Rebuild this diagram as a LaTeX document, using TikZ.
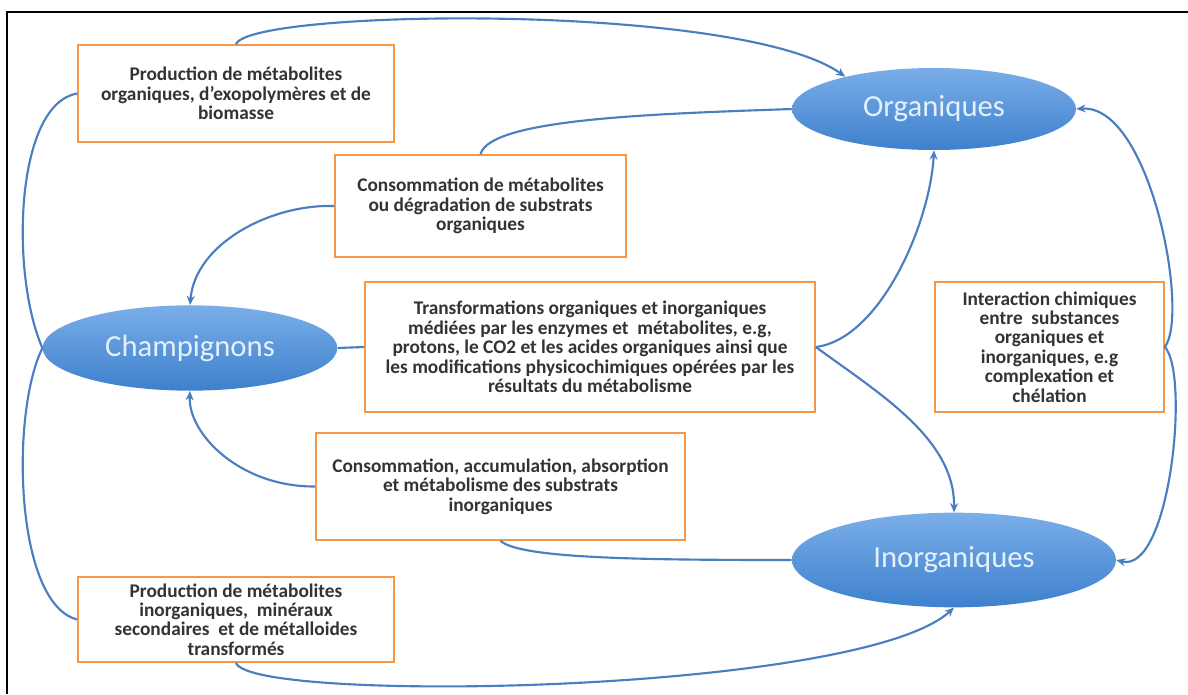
\documentclass[tikz,border=0pt]{standalone}
\usepackage{fontspec}
\setmainfont{Carlito}
\usetikzlibrary{arrows.meta, shapes.geometric}
\definecolor{flowblue}{RGB}{74,126,193}
\definecolor{boxorange}{RGB}{247,150,70}
\definecolor{pooltop}{RGB}{122,174,232}
\definecolor{poolbot}{RGB}{62,128,205}
\definecolor{pooltext}{RGB}{228,240,252}

\begin{document}
\begin{tikzpicture}[x=0.75pt, y=0.75pt,
  procbox/.style={draw=boxorange, line width=1.2pt, fill=white, align=center,
    inner sep=2pt, text=black!80, font=\fontsize{14.5}{14.6}\selectfont\bfseries},
  pool/.style={ellipse, inner sep=0pt, top color=pooltop, bottom color=poolbot,
    text=pooltext, font=\fontsize{23}{25}\selectfont},
  link/.style={flowblue, line width=1.6pt},
  flow/.style={link, -{Stealth[length=7pt,width=6pt]}}]

\useasboundingbox (0,0) rectangle (1188,694);
\fill[white] (0,0) rectangle (1188,694);
\draw[line width=1.5pt] (7,0) -- (7,682) -- (1188,682);

% ---- pools ----
\node[pool, minimum width=221pt, minimum height=64pt] (champ) at (190,346) {Champignons};
\node[pool, minimum width=213pt, minimum height=61.5pt] (organ) at (934,585) {Organiques};
\node[pool, minimum width=243pt, minimum height=71pt] (inorg) at (954,134) {Inorganiques};

% ---- processes ----
\node[procbox, minimum width=237pt, minimum height=72.75pt] (prodorg) at (236,600.5)
  {Production de métabolites\\organiques, d’exopolymères et de\\biomasse};
\node[procbox, minimum width=218.25pt, minimum height=76.5pt] (consorg) at (480.5,488)
  {Consommation de métabolites\\ou dégradation de substrats\\organiques};
\node[procbox, minimum width=337.5pt, minimum height=97.5pt] (transf) at (590,347)
  {Transformations organiques et inorganiques\\médiées par les enzymes et \ métabolites, e.g,\\protons, le CO2 et les acides organiques ainsi que\\les modifications physicochimiques opérées par les\\résultats du métabolisme};
\node[procbox, minimum width=171.75pt, minimum height=97.5pt] (inter) at (1049.5,347)
  {Interaction chimiques\\entre \ substances\\organiques et\\inorganiques, e.g\\complexation et\\chélation};
\node[procbox, minimum width=276.75pt, minimum height=80.25pt] (consinorg) at (500.5,207.5)
  {Consommation, accumulation, absorption\\et métabolisme des substrats\\inorganiques};
\node[procbox, minimum width=237pt, minimum height=63.75pt] (prodinorg) at (236,74.5)
  {Production de métabolites\\inorganiques, \ minéraux\\secondaires \ et de métalloides\\transformés};

% ---- production ----
\draw[link] (prodorg.west) .. controls (15,590) and (10,420) .. (champ.west);
\draw[link] (champ.west) .. controls (10,280) and (15,90) .. (prodinorg.west);
\draw[flow] (prodorg.north) .. controls (250,685) and (740,692) .. (organ.160);
\draw[flow] (prodinorg.south) .. controls (250,-10) and (860,0) .. (inorg.south);

% ---- consumption ----
\draw[link] (organ.west) .. controls (650,580) and (490,575) .. (consorg.north);
\draw[flow] (consorg.west) .. controls (270,490) and (195,450) .. (champ.north);
\draw[link] (inorg.west) .. controls (650,134) and (520,135) .. (consinorg.south);
\draw[flow] (consinorg.west) .. controls (240,207) and (188,260) .. (champ.south);

% ---- transformations ----
\draw[link] (champ.east) -- (transf.west);
\draw[flow] (transf.east) .. controls (880,355) and (930,470) .. (organ.south);
\draw[flow] (transf.east) .. controls (880,300) and (955,255) .. (inorg.north);
\draw[flow] (inter.east) .. controls (1190,380) and (1150,590) .. (organ.east);
\draw[flow] (inter.east) .. controls (1190,320) and (1170,120) .. (inorg.east);

\end{tikzpicture}
\end{document}
